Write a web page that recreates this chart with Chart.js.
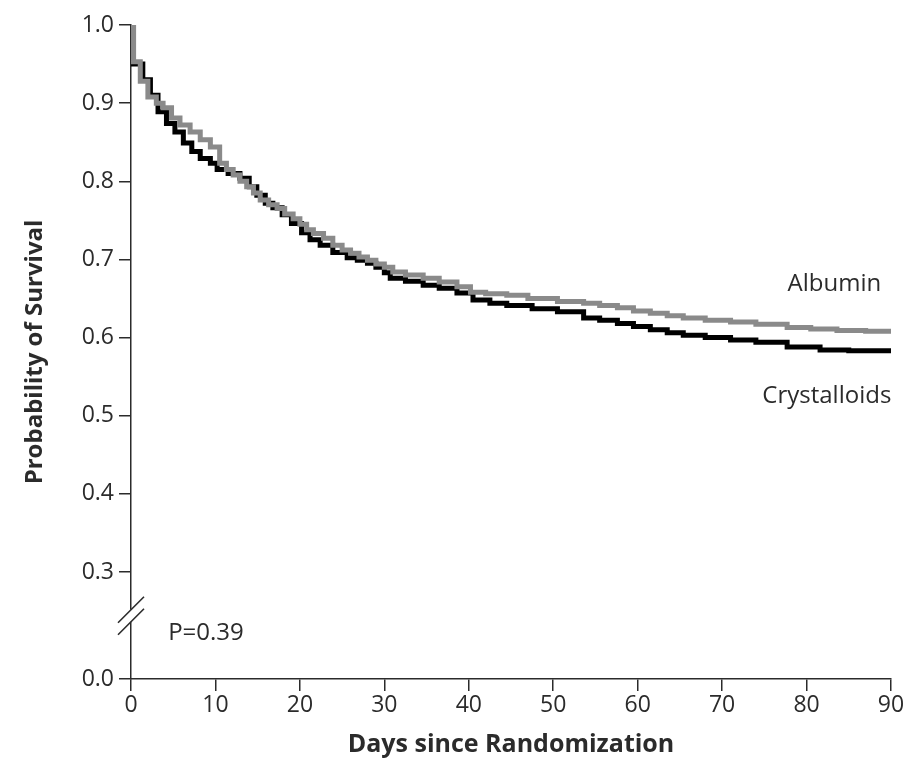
<!DOCTYPE html>
<html>
<head>
<meta charset="utf-8">
<script src="https://cdn.jsdelivr.net/npm/chart.js@4.4.1/dist/chart.umd.min.js"></script>
<style>
  html, body { margin: 0; padding: 0; background: #fff; }
  #wrap { width: 922px; height: 778px; }
</style>
</head>
<body>
<div id="wrap"><canvas id="km" width="922" height="778"></canvas></div>
<script>
// ---------- data ----------
const albuminDays = [0, 0.3, 1.1, 2, 3, 3.8, 4.8, 5.8, 7, 8.2, 9.4, 10.5, 11.3, 12.1, 12.9, 13.7, 14.5, 15.3, 16.3, 17.3, 18.2, 19.2, 20, 20.8, 21.6, 22.8, 23.9, 25, 26, 27, 28, 29, 30, 31, 32.5, 34.6, 36.5, 38.6, 40.2, 42, 44.5, 47, 50.5, 53.6, 55.5, 57.6, 59.5, 61.5, 63.5, 65.4, 68, 71, 74, 77.7, 80.5, 83.6, 87, 90];
const albuminSurv = [1.0, 0.953, 0.928, 0.908, 0.900, 0.894, 0.881, 0.872, 0.863, 0.853, 0.844, 0.823, 0.815, 0.808, 0.800, 0.793, 0.785, 0.776, 0.770, 0.765, 0.758, 0.752, 0.745, 0.738, 0.733, 0.727, 0.718, 0.712, 0.708, 0.703, 0.699, 0.694, 0.690, 0.684, 0.680, 0.676, 0.671, 0.665, 0.658, 0.656, 0.654, 0.650, 0.646, 0.644, 0.641, 0.638, 0.634, 0.631, 0.628, 0.625, 0.622, 0.620, 0.617, 0.613, 0.611, 0.609, 0.608, 0.608];

const crystDays = [0, 0.3, 1.4, 2.3, 3.2, 4.2, 5.2, 6.2, 7.2, 8.2, 9.4, 10.2, 11.5, 12.9, 14, 14.9, 15.9, 16.8, 17.9, 19, 20.2, 21.2, 22.4, 23.9, 25.6, 26.8, 28, 29, 30, 30.7, 32.5, 34.6, 36.5, 38.6, 40.5, 42.5, 44.5, 47.5, 50.5, 53.6, 55.5, 57.6, 59.5, 61.5, 63.5, 65.4, 68, 71, 74, 77.7, 81.6, 85, 90];
const crystSurv = [1.0, 0.950, 0.930, 0.910, 0.889, 0.874, 0.863, 0.849, 0.838, 0.829, 0.823, 0.815, 0.810, 0.804, 0.793, 0.782, 0.772, 0.766, 0.757, 0.746, 0.734, 0.725, 0.718, 0.709, 0.702, 0.699, 0.695, 0.690, 0.683, 0.676, 0.672, 0.667, 0.663, 0.657, 0.648, 0.644, 0.641, 0.637, 0.633, 0.625, 0.622, 0.618, 0.614, 0.610, 0.606, 0.603, 0.600, 0.597, 0.594, 0.588, 0.584, 0.583, 0.581];

const xTicks = [0, 10, 20, 30, 40, 50, 60, 70, 80, 90];
const yTickLabels = ["0.0", "0.3", "0.4", "0.5", "0.6", "0.7", "0.8", "0.9", "1.0"];
const pValueText = "P=0.39";

// 0.0 sits just below the axis break; this is where it lands on the compressed scale
const AXIS_FLOOR = 0.163;
const tickValue = (lbl) => (lbl === "0.0" ? AXIS_FLOOR : parseFloat(lbl));

// ---------- look ----------
const FONT = "'Open Sans', 'Noto Sans', sans-serif";
const INK = "#2b2b2b";
const GRAY = "#8a8a8a";

const toPts = (xs, ys) => xs.map((d, i) => ({ x: d, y: ys[i] }));

// labels + axis break drawn on top of the chart
const extras = {
  id: "extras",
  afterDraw(chart) {
    const { ctx, scales: { x, y } } = chart;
    ctx.save();
    ctx.fillStyle = INK;
    ctx.font = `24px ${FONT}`;
    ctx.textBaseline = "middle";
    ctx.textAlign = "center";
    ctx.fillText("Albumin", x.getPixelForValue(83.3), y.getPixelForValue(0.668));
    ctx.fillText("Crystalloids", x.getPixelForValue(82.4), y.getPixelForValue(0.525));
    ctx.textAlign = "left";
    ctx.fillText(pValueText, x.getPixelForValue(4.4), y.getPixelForValue(0.222));

    // axis break "//"
    const ax = x.left;
    const yb = y.getPixelForValue(0.244);
    ctx.fillStyle = "#fff";
    ctx.fillRect(ax - 3, yb - 6, 6, 12);
    ctx.strokeStyle = INK;
    ctx.lineWidth = 1.6;
    [-6, 6].forEach(off => {
      ctx.beginPath();
      ctx.moveTo(ax - 13, yb + off + 13);
      ctx.lineTo(ax + 13, yb + off - 13);
      ctx.stroke();
    });
    ctx.restore();
  }
};

new Chart(document.getElementById("km").getContext("2d"), {
  type: "line",
  data: {
    datasets: [
      {
        label: "Albumin",
        data: toPts(albuminDays, albuminSurv),
        borderColor: GRAY,
        borderWidth: 5,
        stepped: "before",
        pointRadius: 0,
        fill: false
      },
      {
        label: "Crystalloids",
        data: toPts(crystDays, crystSurv),
        borderColor: "#000",
        borderWidth: 5,
        stepped: "before",
        pointRadius: 0,
        fill: false
      }
    ]
  },
  options: {
    responsive: false,
    animation: false,
    events: [],
    layout: { padding: { top: 25, right: 31, left: 0, bottom: 0 } },
    plugins: { legend: { display: false }, tooltip: { enabled: false } },
    scales: {
      x: {
        type: "linear",
        min: 0,
        max: 90,
        afterBuildTicks: (s) => { s.ticks = xTicks.map(v => ({ value: v })); },
        afterFit: (s) => { s.height = 99; },
        grid: { drawOnChartArea: false, drawTicks: true, tickLength: 12, color: INK, lineWidth: 1.5 },
        border: { display: true, color: INK, width: 1.5 },
        ticks: { color: INK, font: { family: FONT, size: 23 }, padding: 1, maxRotation: 0 },
        title: {
          display: true,
          text: "Days since Randomization",
          color: INK,
          font: { family: FONT, size: 25, weight: "bold" },
          padding: { top: 0, bottom: 18 }
        }
      },
      y: {
        type: "linear",
        min: AXIS_FLOOR,
        max: 1.0,
        afterBuildTicks: (s) => { s.ticks = yTickLabels.map(l => ({ value: tickValue(l) })); },
        afterFit: (s) => { s.width = 131; },
        grid: { drawOnChartArea: false, drawTicks: true, tickLength: 12, color: INK, lineWidth: 1.5 },
        border: { display: true, color: INK, width: 1.5 },
        ticks: {
          color: INK,
          font: { family: FONT, size: 23 },
          padding: 5,
          callback: (v) => (v < 0.2 ? "0.0" : v.toFixed(1))
        },
        title: {
          display: true,
          text: "Probability of Survival",
          color: INK,
          font: { family: FONT, size: 24, weight: "bold" },
          padding: { top: 21, bottom: 0 }
        }
      }
    }
  },
  plugins: [extras]
});
</script>
</body>
</html>
